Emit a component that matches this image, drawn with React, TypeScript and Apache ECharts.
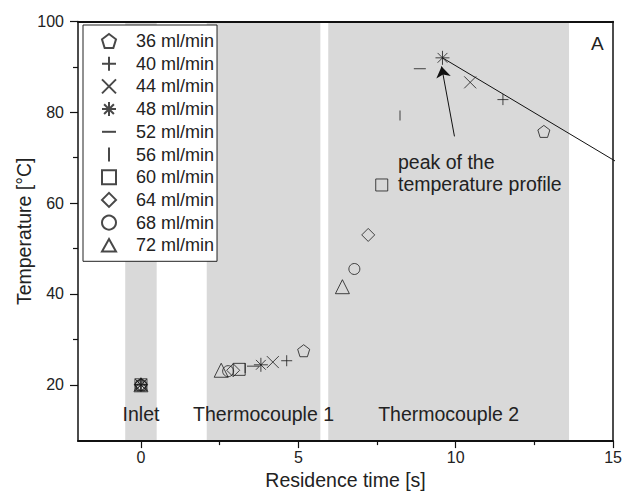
import React, { useEffect, useRef } from "react";
import * as echarts from "echarts";

const flowRates = ["36 ml/min", "40 ml/min", "44 ml/min", "48 ml/min", "52 ml/min", "56 ml/min", "60 ml/min", "64 ml/min", "68 ml/min", "72 ml/min"];
const inletX = [0, 0, 0, 0, 0, 0, 0, 0, 0, 0];
const inletY = [20, 20, 20, 20, 20, 20, 20, 20, 20, 20];
const tc1X = [5.17, 4.63, 4.19, 3.81, 3.56, 3.31, 3.12, 2.93, 2.77, 2.55];
const tc1Y = [27.5, 25.3, 25.0, 24.4, 24.1, 23.7, 23.4, 23.2, 23.0, 23.2];
const tc2X = [12.8, 11.5, 10.46, 9.58, 8.86, 8.23, 7.65, 7.22, 6.78, 6.4];
const tc2Y = [75.8, 82.8, 86.6, 92.0, 89.6, 79.3, 64.0, 53.0, 45.5, 41.6];

const regionNames = ["Inlet", "Thermocouple 1", "Thermocouple 2"];
const regionStart = [-0.5, 2.09, 5.95];
const regionEnd = [0.5, 5.7, 13.6];

const peakLineX = [9.58, 15.13];
const peakLineY = [92.0, 69.0];
const arrowFrom = [9.96, 74.7];
const arrowTo = [9.55, 90.1];

const xTicks = [0, 5, 10, 15];
const xMinorTicks = [2.5, 7.5, 12.5];
const yTicks = [20, 40, 60, 80, 100];
const yMinorTicks = [30, 50, 70, 90];

const symbols = [
  "path://M5,0 L10,3.8 L8.1,10 L1.9,10 L0,3.8 Z",
  "path://M5,0 L5,10 M0,5 L10,5",
  "path://M0,0 L10,10 M10,0 L0,10",
  "path://M5,0 L5,10 M0,5 L10,5 M1.5,1.5 L8.5,8.5 M8.5,1.5 L1.5,8.5",
  "path://M0,0 M10,10 M0,5 L10,5",
  "path://M0,0 M10,10 M5,0 L5,10",
  "path://M1,1 L9,1 L9,9 L1,9 Z",
  "path://M5,0 L10,5 L5,10 L0,5 Z",
  "circle",
  "path://M5,0.5 L10,9.5 L0,9.5 Z",
];
const symbolSizes = [12, 11, 12, 14, 12, 10, 12, 13, 11, 14];

const FONT = '"Liberation Sans", Arial, sans-serif';

export default function App() {
  const ref = useRef<HTMLDivElement>(null);
  useEffect(() => {
    document.body.style.margin = "0";
    if (!ref.current) return;
    const chart = echarts.init(ref.current, null, { renderer: "svg" });
    const scatterSeries = flowRates.map((name, i) => ({
      name,
      type: "scatter",
      z: 5,
      symbol: symbols[i],
      symbolSize: symbolSizes[i],
      itemStyle: { color: "transparent", borderColor: "#1a1a1a", borderWidth: 1 },
      data: [
        [inletX[i], inletY[i]],
        [tc1X[i], tc1Y[i]],
        [tc2X[i], tc2Y[i]],
      ],
    }));
    const axisCommon = {
      splitLine: { show: false },
      z: 10,
    };
    const xBase = { type: "value", min: -2, max: 15, ...axisCommon };
    const yBase = { type: "value", min: 7.6, max: 100, ...axisCommon };
    const option: any = {
      animation: false,
      textStyle: { fontFamily: FONT },
      grid: { left: 78, right: 7, top: 21.5, bottom: 52, containLabel: false },
      legend: {
        data: flowRates,
        orient: "vertical",
        left: 83,
        top: 25,
        padding: [7, 3, 7, 18],
        itemWidth: 14,
        itemHeight: 14,
        itemGap: 4.7,
        backgroundColor: "#fff",
        borderColor: "#222",
        borderWidth: 1,
        borderRadius: 0,
        textStyle: { fontSize: 18, color: "#222", fontFamily: FONT, padding: [0, 0, 0, 15] },
        z: 20,
      },
      xAxis: [
        {
          ...xBase,
          name: "Residence time [s]",
          nameLocation: "middle",
          nameGap: 27,
          nameTextStyle: { fontSize: 19.5, color: "#222", fontFamily: FONT },
          axisLine: { show: true, onZero: false, lineStyle: { color: "#111", width: 2 } },
          axisTick: { show: true, customValues: xTicks, length: 7, lineStyle: { color: "#111", width: 1.2 } },
          axisLabel: { customValues: xTicks, fontSize: 16, color: "#222", margin: 8, fontFamily: FONT },
        },
        {
          ...xBase,
          position: "bottom",
          axisLine: { show: false, onZero: false },
          axisTick: { show: true, customValues: xMinorTicks, length: 4, lineStyle: { color: "#111", width: 1.2 } },
          axisLabel: { show: false },
        },
        {
          ...xBase,
          position: "top",
          axisLine: { show: true, onZero: false, lineStyle: { color: "#111", width: 2 } },
          axisTick: { show: false },
          axisLabel: { show: false },
        },
      ],
      yAxis: [
        {
          ...yBase,
          name: "Temperature [°C]",
          nameLocation: "middle",
          nameGap: 44,
          nameMoveOverlap: false,
          nameTextStyle: { fontSize: 19.5, color: "#222", fontFamily: FONT },
          position: "left",
          axisLine: { show: true, onZero: false, lineStyle: { color: "#111", width: 1.5 } },
          axisTick: { show: true, customValues: yTicks, length: 8, lineStyle: { color: "#111", width: 1.2 } },
          axisLabel: { customValues: yTicks, fontSize: 16, color: "#222", margin: 14, fontFamily: FONT },
        },
        {
          ...yBase,
          position: "left",
          axisLine: { show: false, onZero: false },
          axisTick: { show: true, customValues: yMinorTicks, length: 5, lineStyle: { color: "#111", width: 1.2 } },
          axisLabel: { show: false },
        },
        {
          ...yBase,
          position: "right",
          axisLine: { show: true, onZero: false, lineStyle: { color: "#111", width: 1.5 } },
          axisTick: { show: false },
          axisLabel: { show: false },
        },
      ],
      series: [
        {
          type: "scatter",
          z: 1,
          data: [],
          markArea: {
            silent: true,
            itemStyle: { color: "#d9d9d9" },
            label: {
              show: true,
              position: "insideBottom",
              distance: 17,
              fontSize: 19.5,
              color: "#222",
              fontFamily: FONT,
            },
            data: regionNames.map((name, i) => [
              { name, xAxis: regionStart[i] },
              { xAxis: regionEnd[i] },
            ]),
          },
        },
        {
          type: "line",
          z: 4,
          clip: false,
          symbol: "none",
          lineStyle: { color: "#111", width: 1 },
          data: peakLineX.map((x, i) => [x, peakLineY[i]]),
          markLine: {
            silent: true,
            symbol: ["none", "arrow"],
            symbolSize: 11,
            lineStyle: { color: "#111", width: 1, type: "solid" },
            label: { show: false },
            data: [[{ coord: arrowFrom }, { coord: arrowTo }]],
          },
        },
        ...scatterSeries,
      ],
      graphic: [
        {
          type: "text",
          left: 398,
          top: 151,
          z: 30,
          style: { text: "peak of the\ntemperature profile", font: `19.5px ${FONT}`, fill: "#222", lineHeight: 22 },
        },
        {
          type: "text",
          left: 591,
          top: 34,
          z: 30,
          style: { text: "A", font: `19px ${FONT}`, fill: "#222" },
        },
      ],
    };
    chart.setOption(option);
    return () => chart.dispose();
  }, []);
  return <div ref={ref} style={{ width: 625, height: 495 }} />;
}
